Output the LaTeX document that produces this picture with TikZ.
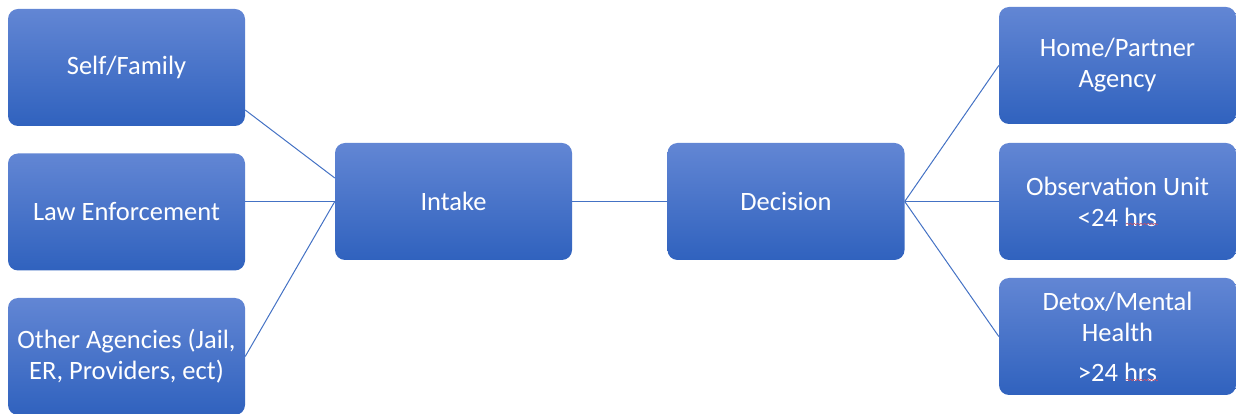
\documentclass[tikz,border=0pt]{standalone}
\usepackage{fontspec}
\setmainfont{Carlito}
\usetikzlibrary{decorations.pathmorphing}
\definecolor{boxtop}{RGB}{98,134,212}
\definecolor{boxbot}{RGB}{48,98,190}
\definecolor{linkblue}{RGB}{68,114,196}
\definecolor{spellred}{RGB}{190,80,110}
\begin{document}
\begin{tikzpicture}[>=latex,line join=bevel,
  flowbox/.style={rounded corners=10bp,top color=boxtop,bottom color=boxbot,
    draw=none,text=white,minimum width=237bp,minimum height=117bp,
    align=center,inner sep=0pt,font=\fontsize{26.5bp}{31bp}\selectfont},
  link/.style={draw=linkblue,line width=1bp},
  squiggle/.style={spellred,line width=0.6bp,decorate,decoration={snake,amplitude=0.7bp,segment length=3.5bp}}]
%%
\useasboundingbox (0bp,0bp) rectangle (1236bp,414bp);
\node (node_self) at (126.5bp,346.5bp) [flowbox] {Self/Family};
  \node (node_law) at (126.5bp,202.0bp) [flowbox] {Law Enforcement};
  \node (node_other) at (126.5bp,57.5bp) [flowbox] {Other Agencies (Jail,\\ER, Providers, ect)};
  \node (node_intake) at (453.5bp,212.5bp) [flowbox] {Intake};
  \node (node_decision) at (786.0bp,212.5bp) [flowbox] {Decision};
  \node (node_home) at (1117.5bp,348.5bp) [flowbox] {Home/Partner\\Agency};
  \node (node_obs) at (1117.5bp,212.5bp) [flowbox] {Observation Unit\\<24 hrs};
  \node (node_detox) at (1117.5bp,77.5bp) [flowbox] {Detox/Mental\\Health\\[9bp]>24 hrs};
  \draw [link] ([yshift=-42.5bp]node_self.east) -- ([yshift=23.5bp]node_intake.west);
  \draw [link] (node_intake.west -| node_law.east) -- (node_intake.west);
  \draw [link] (node_other.east) -- (node_intake.west);
  \draw [link] (node_intake.east) -- (node_decision.west);
  \draw [link] (node_decision.east) -- (node_home.west);
  \draw [link] (node_decision.east) -- (node_obs.west);
  \draw [link] (node_decision.east) -- (node_detox.west);
%
\coordinate (obs_hrs_a) at (1126bp,190bp);
  \coordinate (obs_hrs_b) at (1158bp,190bp);
  \coordinate (detox_hrs_a) at (1126bp,34bp);
  \coordinate (detox_hrs_b) at (1158bp,34bp);
  \draw [squiggle] (obs_hrs_a) -- (obs_hrs_b);
  \draw [squiggle] (detox_hrs_a) -- (detox_hrs_b);
%
\end{tikzpicture}
\end{document}
